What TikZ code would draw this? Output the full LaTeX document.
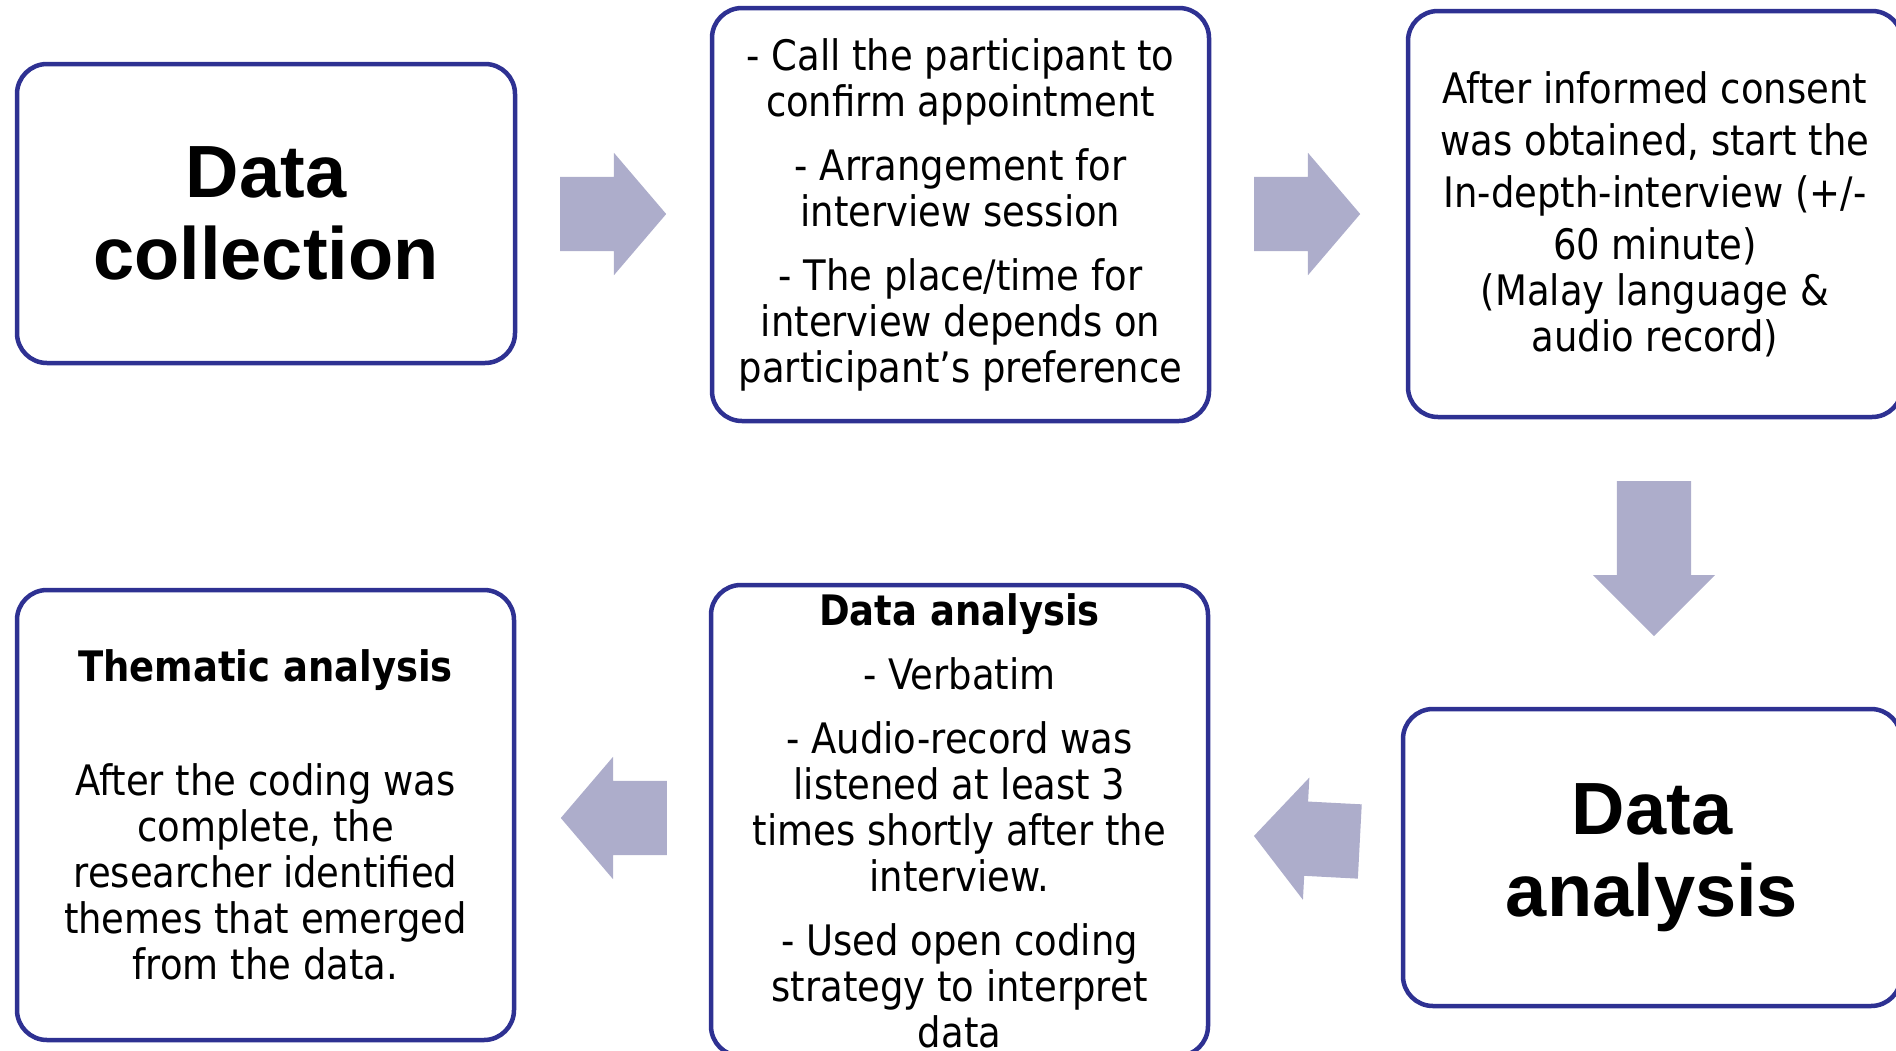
\documentclass[tikz,border=0pt]{standalone}
\usepackage{fontspec}
\usepackage{tikz}
\usetikzlibrary{shapes.arrows}
\newfontfamily\bodyfont[FakeStretch=0.88]{DejaVu Sans}
\newfontfamily\headfont{Liberation Sans}
\definecolor{boxblue}{RGB}{46,49,146}
\definecolor{arrowgray}{RGB}{173,173,203}

\begin{document}
\begin{tikzpicture}[x=1pt, y=-1pt,
        stage/.style={rectangle, rounded corners=30pt, draw=boxblue, line width=4.5pt,
                      fill=white, align=center, inner sep=0pt},
        bigstage/.style={stage, font=\headfont\bfseries\fontsize{74}{82}\selectfont},
        textstage/.style={stage, font=\bodyfont\fontsize{42}{46}\selectfont},
        blockarrow/.style={single arrow, fill=arrowgray, draw=none, inner sep=0pt,
                           minimum height=106pt, single arrow head extend=24pt,
                           single arrow tip angle=99, anchor=tail}
    ]
        \useasboundingbox (0,0) rectangle (1896,1050);

        % Top row
        \node[bigstage, minimum width=498pt, minimum height=299pt] (Collect) at (266,213.5)
            {Data\\collection};
        \node[textstage, minimum width=497pt, minimum height=413pt] (Contact) at (960.5,214.5)
            {- Call the participant to\\confirm appointment\\[18pt]
             - Arrangement for\\interview session\\[18pt]
             - The place/time for\\interview depends on\\participant’s preference};
        \node[textstage, font=\bodyfont\fontsize{42}{52}\selectfont,
              minimum width=494pt, minimum height=406pt] (Interview) at (1655,214)
            {After informed consent\\was obtained, start the\\In-depth-interview (+/-\\60 minute)\\[-6pt]
             (Malay language \&\\[-6pt]audio record)};

        % Bottom row
        \node[bigstage, minimum width=498pt, minimum height=297pt] (Analysis) at (1652,857.5)
            {Data\\analysis};
        \node[textstage, minimum width=497pt, minimum height=471pt] (Verbatim) at (959.5,820.5)
            {\textbf{Data analysis}\\[18pt]
             - Verbatim\\[18pt]
             - Audio-record was\\listened at least 3\\times shortly after the\\interview.\\[18pt]
             - Used open coding\\strategy to interpret\\data};
        \node[textstage, minimum width=497pt, minimum height=450pt] (Thematic) at (265.5,815)
            {\textbf{Thematic analysis}\\[68pt]
             After the coding was\\complete, the\\researcher identified\\themes that emerged\\from the data.};

        % Arrows
        \node[blockarrow] (Arr1) at (560,214) {\rule{0pt}{74pt}};
        \node[blockarrow] (Arr2) at (1254,214) {\rule{0pt}{74pt}};
        \node[blockarrow, rotate=-90, minimum height=155pt, single arrow tip angle=90]
            (Arr3) at (1654,481) {\rule{0pt}{74pt}};
        \node[blockarrow, rotate=177] (Arr4) at (1360,841.5) {\rule{0pt}{74pt}};
        \node[blockarrow, rotate=180] (Arr5) at (667,818) {\rule{0pt}{74pt}};
\end{tikzpicture}
\end{document}
